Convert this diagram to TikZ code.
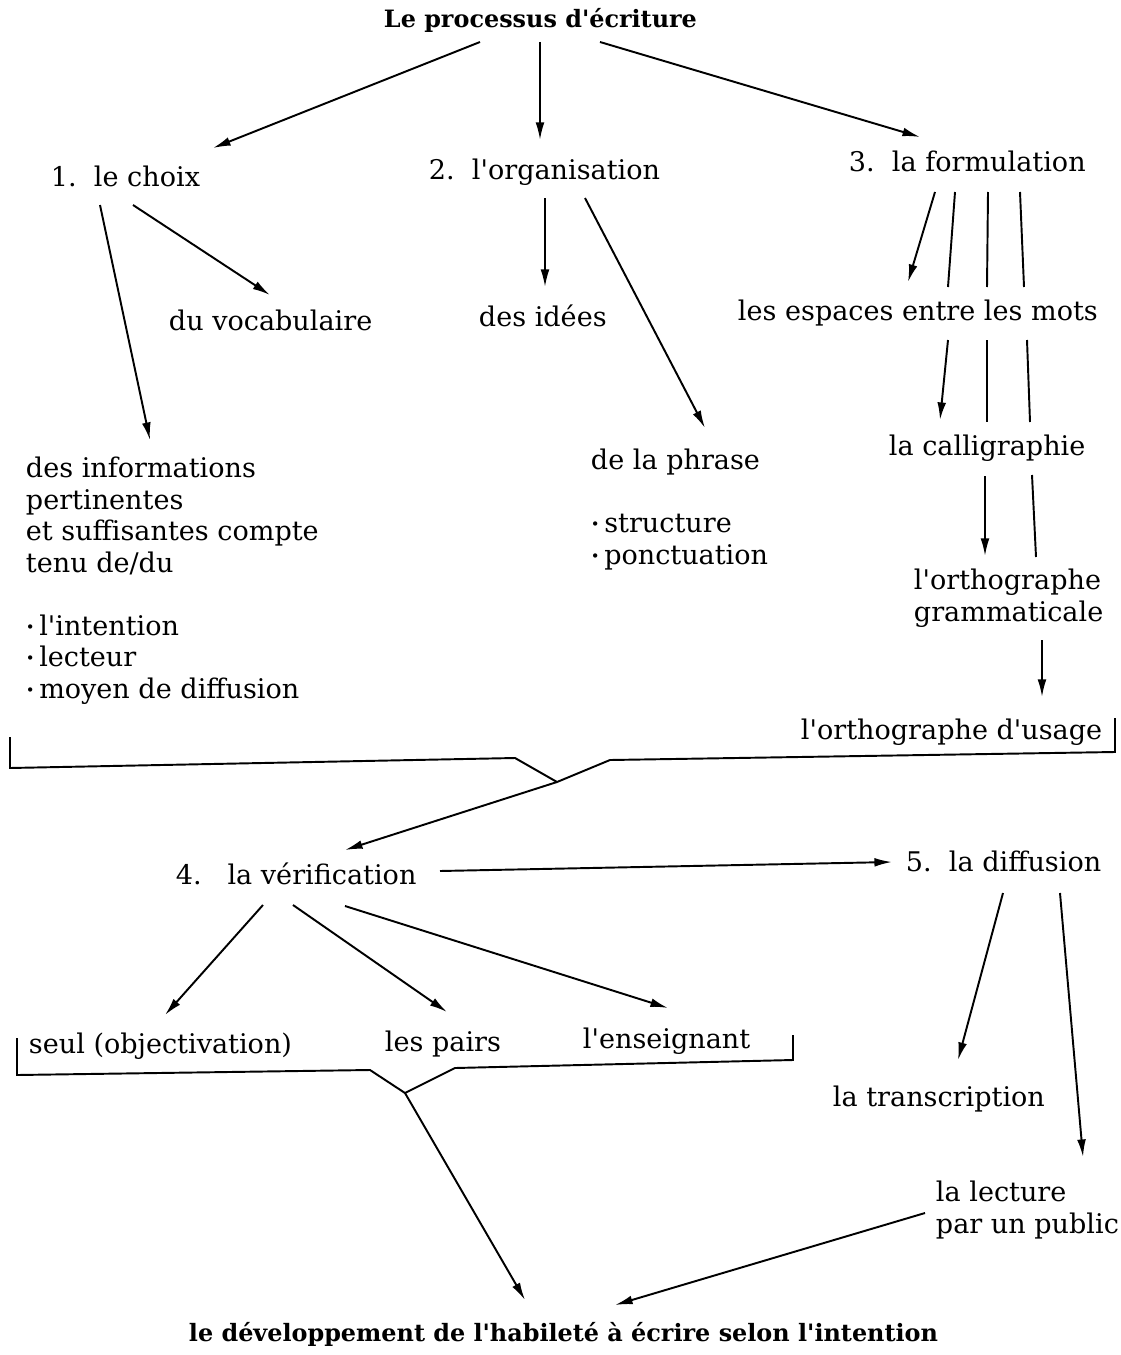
\documentclass[tikz,border=0pt]{standalone}
\usepackage{fontspec}
\setmainfont{DejaVu Serif}[Ligatures=TeXOff]
\usepackage{tikz}
\usetikzlibrary{arrows.meta,calc}

\newcommand{\dotitem}{\raisebox{0.2ex}{\scalebox{0.55}{\textbullet}}\,}

\tikzset{
    lbl/.style={anchor=base west, inner sep=0pt, align=left, font=\fontsize{15.4}{17.9}\selectfont},
    ttl/.style={anchor=base west, inner sep=0pt, font=\fontsize{13.6}{16}\selectfont\bfseries},
    arr/.style={-{Latex[length=10pt,width=5pt]}},
    bar/.style={line join=miter}
}

\begin{document}
\begin{tikzpicture}[x=0.02cm, y=-0.02cm, line width=1.1pt]
    \useasboundingbox (0,0) rectangle (1120,1355);

    % the texts (multi-line ones sit on their last line)
    \node[ttl] (title) at (383,28) {Le processus d'écriture};
    \node[lbl] (choix) at (50,186) {1.\ \ le choix};
    \node[lbl] (org) at (428,179) {2.\ \ l'organisation};
    \node[lbl] (form) at (848,171) {3.\ \ la formulation};
    \node[lbl] (vocab) at (168,330) {du vocabulaire};
    \node[lbl] (idees) at (478,326) {des idées};
    \node[lbl] (espaces) at (737,320) {les espaces entre les mots};
    \node[lbl] (infos) at (25,698) {des informations\\pertinentes\\et suffisantes compte\\tenu de/du\\[17.9pt]\dotitem l'intention\\\dotitem lecteur\\\dotitem moyen de diffusion};
    \node[lbl] (phrase) at (590,564) {de la phrase\\[17.9pt]\dotitem structure\\\dotitem ponctuation};
    \node[lbl] (calli) at (888,455) {la calligraphie};
    \node[lbl] (gram) at (913,621) {l'orthographe\\grammaticale};
    \node[lbl] (usage) at (800,739) {l'orthographe d'usage};
    \node[lbl] (verif) at (175,884) {4.\ \ \ la vérification};
    \node[lbl] (diff) at (905,871) {5.\ \ la diffusion};
    \node[lbl] (seul) at (28,1053) {seul (objectivation)};
    \node[lbl] (pairs) at (384,1051) {les pairs};
    \node[lbl] (ens) at (582,1048) {l'enseignant};
    \node[lbl] (transc) at (832,1106) {la transcription};
    \node[lbl] (lecture) at (935,1233) {la lecture\\par un public};
    \node[ttl] (dev) at (188,1341) {le développement de l'habileté à écrire selon l'intention};

    % first level
    \draw[arr] ($(title.base west)+(97,14)$) -- ($(choix.base west)+(163,-38)$);
    \draw[arr] ($(title.base west)+(157,14)$) -- ($(org.base west)+(112,-39)$);
    \draw[arr] ($(title.base west)+(217,14)$) -- ($(form.base west)+(72,-34)$);

    % le choix
    \draw[arr] ($(choix.base west)+(50,19)$) -- ($(infos.base west)+(125,-258)$);
    \draw[arr] ($(choix.base west)+(83,19)$) -- ($(vocab.base west)+(102,-35)$);

    % l'organisation
    \draw[arr] ($(org.base west)+(117,19)$) -- ($(idees.base west)+(67,-39)$);
    \draw[arr] ($(org.base west)+(157,19)$) -- ($(phrase.base west)+(115,-136)$);

    % la formulation
    \draw[arr] ($(form.base west)+(87,21)$) -- ($(espaces.base west)+(171,-38)$);
    \draw ($(form.base west)+(107,21)$) -- ($(espaces.base west)+(211,-33)$);
    \draw ($(form.base west)+(140,21)$) -- ($(espaces.base west)+(250,-33)$);
    \draw ($(form.base west)+(172,21)$) -- ($(espaces.base west)+(287,-33)$);
    \draw[arr] ($(espaces.base west)+(211,20)$) -- ($(calli.base west)+(52,-35)$);
    \draw ($(espaces.base west)+(250,20)$) -- ($(calli.base west)+(99,-33)$);
    \draw ($(espaces.base west)+(290,20)$) -- ($(calli.base west)+(142,-33)$);
    \draw[arr] ($(calli.base west)+(97,21)$) -- ($(gram.base west)+(72,-65)$);
    \draw ($(calli.base west)+(144,20)$) -- ($(gram.base west)+(123,-64)$);
    \draw[arr] ($(gram.base west)+(129,19)$) -- ($(usage.base west)+(242,-42)$);

    % brackets
    \draw[bar] (10,737) -- (10,768) -- (515,758) -- (557,782) coordinate (join1) -- (610,760) -- (1115,752) -- (1115,718);
    \draw[arr] (join1) -- ($(verif.base west)+(170,-34)$);
    \draw[bar] (17,1038) -- (17,1075) -- (370,1070) -- (405,1093) coordinate (join2) -- (455,1068) -- (793,1060) -- (793,1035);
    \draw[arr] (join2) -- ($(dev.base west)+(337,-41)$);

    % la verification
    \draw[arr] ($(verif.base west)+(265,-13)$) -- ($(diff.base west)+(-13,-9)$);
    \draw[arr] ($(verif.base west)+(88,21)$) -- ($(seul.base west)+(137,-38)$);
    \draw[arr] ($(verif.base west)+(118,21)$) -- ($(pairs.base west)+(63,-39)$);
    \draw[arr] ($(verif.base west)+(170,22)$) -- ($(ens.base west)+(86,-40)$);

    % la diffusion
    \draw[arr] ($(diff.base west)+(98,22)$) -- ($(transc.base west)+(126,-46)$);
    \draw[arr] ($(diff.base west)+(155,22)$) -- ($(lecture.base west)+(148,-76)$);
    \draw[arr] ($(lecture.base west)+(-10,-20)$) -- ($(dev.base west)+(427,-36)$);
\end{tikzpicture}
\end{document}
